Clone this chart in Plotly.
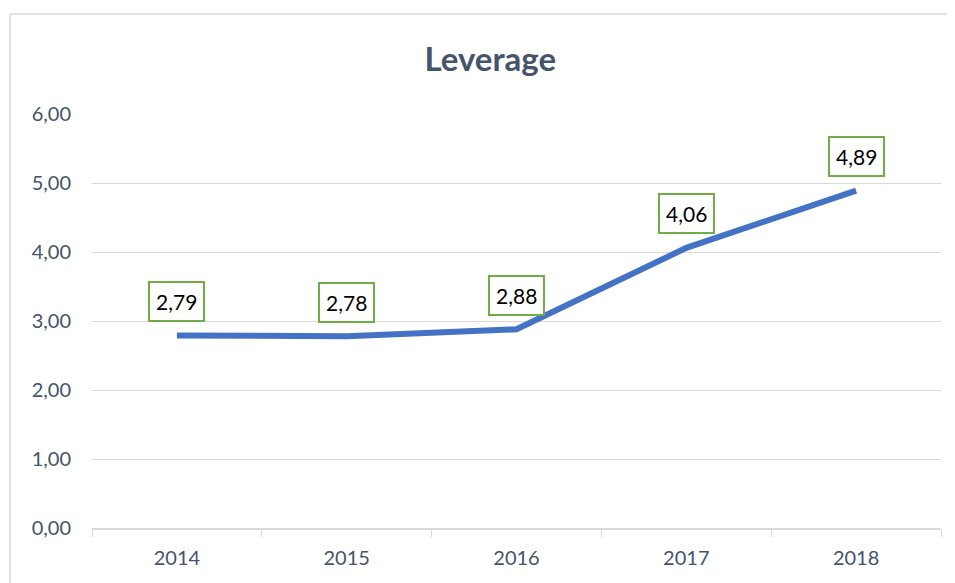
import plotly.graph_objects as go

# ── data ────────────────────────────────────────────────────────────────
years = ["2014", "2015", "2016", "2017", "2018"]
leverage = [2.79, 2.78, 2.88, 4.06, 4.89]
y_ticks = [0, 1, 2, 3, 4, 5, 6]
y_tick_text = ["0,00", "1,00", "2,00", "3,00", "4,00", "5,00", "6,00"]
label_text = ["2,79", "2,78", "2,88", "4,06", "4,89"]

FONT = "Lato, 'Open Sans', sans-serif"
AXIS_COL = "#44546A"
GRID_COL = "#D9D9D9"

fig = go.Figure()

fig.add_trace(go.Scatter(
    x=years, y=leverage, mode="lines",
    line=dict(color="#4472C4", width=6),
    hoverinfo="skip", showlegend=False,
))

# data labels in green boxes (x given as category index so "2014" is not
# read as a numeric position)
for i, (val, txt) in enumerate(zip(leverage, label_text)):
    fig.add_annotation(
        x=i, y=val, text=txt, showarrow=False, yshift=34,
        font=dict(family=FONT, size=21, color="black"),
        bgcolor="white", bordercolor="#70AD47", borderwidth=2, borderpad=6,
    )

fig.update_xaxes(
    type="category", range=[-0.5, len(years) - 0.5],
    tickson="boundaries", ticks="outside", ticklen=7, tickcolor=GRID_COL,
    showline=True, linecolor=GRID_COL, linewidth=1.5,
    showgrid=False, tickangle=0,
    tickfont=dict(family=FONT, size=20, color=AXIS_COL),
    ticklabelstandoff=11,
)
fig.update_yaxes(
    range=[0, 6], tickvals=y_ticks, ticktext=y_tick_text,
    showgrid=True, gridcolor=GRID_COL, gridwidth=1,
    zeroline=False, showline=False,
    tickfont=dict(family=FONT, size=20, color=AXIS_COL),
    ticklabelstandoff=20,
)

# outer chart frame (only top and left edges are inside the window)
frame = dict(color=GRID_COL, width=1.5)
fig.add_shape(type="line", xref="paper", yref="paper",
              x0=-0.0966, x1=1.2, y0=1.2415, y1=1.2415, line=frame)
fig.add_shape(type="line", xref="paper", yref="paper",
              x0=-0.0966, x1=-0.0966, y0=-0.3, y1=1.2415, line=frame)

# page body adds 8px, so margins are shifted to keep the plot in place
fig.update_layout(
    title=dict(
        text="<b>Leverage</b>", xref="container", yref="container",
        x=0.505, xanchor="center", y=0.911, yanchor="middle",
        font=dict(family=FONT, size=33, color=AXIS_COL),
    ),
    width=955, height=583,
    margin=dict(l=84, r=22, t=106, b=63),
    plot_bgcolor="white", paper_bgcolor="white",
    font=dict(family=FONT),
)

fig.write_html("out.html")
